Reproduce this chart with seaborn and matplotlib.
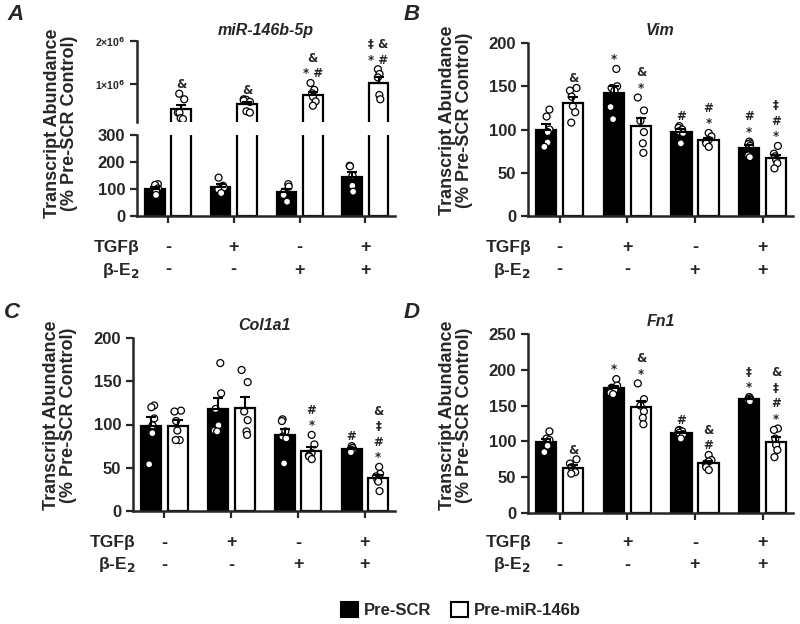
import numpy as np
import pandas as pd
import matplotlib.pyplot as plt
import seaborn as sns
from matplotlib.patches import Patch
from matplotlib.transforms import blended_transform_factory

sns.set_style("ticks")
plt.rcParams["font.family"] = ["Liberation Sans", "DejaVu Sans"]
plt.rcParams["font.weight"] = "bold"

GROUPS = ["ctrl", "tgf", "e2", "tgf_e2"]
TGF_ROW = ["-", "+", "-", "+"]
E2_ROW = ["-", "-", "+", "+"]
TREATMENTS = ["Pre-SCR", "Pre-miR-146b"]
YLABEL = "Transcript Abundance\n(% Pre-SCR Control)"

# A: miR-146b-5p (broken axis)
mir146_scr = [[118, 115, 102, 90, 78], [142, 112, 105, 98, 85],
              [118, 109, 90, 78, 53], [186, 184, 150, 112, 90]]
mir146_mir = [[0.77e6, 0.64e6, 0.33e6, 0.33e6, 0.20e6, 0.18e6],
              [0.64e6, 0.63e6, 0.61e6, 0.58e6, 0.36e6, 0.33e6],
              [1.02e6, 0.86e6, 0.78e6, 0.70e6, 0.59e6, 0.49e6],
              [1.34e6, 1.23e6, 1.15e6, 0.74e6, 0.64e6]]
mir146_marks_scr = ["", "", "", ""]
mir146_marks_mir = ["&", "&", "&\n* #", "‡ &\n* #"]

# B: Vim
vim_scr = [[123, 115, 100, 97, 85, 80], [170, 150, 148, 145, 126, 112],
           [104, 102, 100, 98, 96, 84], [86, 84, 83, 81, 70, 68]]
vim_mir = [[148, 145, 138, 127, 120, 108], [137, 122, 110, 97, 84, 73],
           [96, 92, 88, 86, 84, 80], [81, 72, 69, 65, 61, 55]]
vim_marks_scr = ["", "*", "#", "#\n*"]
vim_marks_mir = ["&", "&\n*", "#\n*", "‡\n#\n*"]

# C: Col1a1
col_scr = [[122, 120, 107, 99, 90, 54], [171, 136, 118, 99, 93, 92],
           [106, 104, 92, 86, 84, 55], [75, 73, 71, 70, 68]]
col_mir = [[116, 115, 104, 93, 82, 82], [163, 149, 115, 105, 92, 88],
           [88, 77, 67, 64, 63, 60], [51, 43, 40, 36, 34, 23]]
col_marks_scr = ["", "", "", "#"]
col_marks_mir = ["", "", "#\n*", "&\n‡\n#\n*"]

# D: Fn1
fn_scr = [[114, 104, 102, 98, 94, 85], [187, 178, 175, 172, 168, 166],
          [116, 115, 114, 112, 110, 104], [162, 160, 159, 158, 157, 156]]
fn_mir = [[75, 69, 64, 60, 57, 55], [181, 159, 150, 142, 133, 124],
          [81, 74, 72, 69, 64, 60], [118, 116, 104, 95, 88, 78]]
fn_marks_scr = ["", "*", "#", "‡\n*"]
fn_marks_mir = ["&", "&\n*", "&\n#", "&\n‡\n#\n*"]


def make_df(scr, mir):
    rows = []
    for g, vals in zip(GROUPS, scr):
        rows += [(g, TREATMENTS[0], v) for v in vals]
    for g, vals in zip(GROUPS, mir):
        rows += [(g, TREATMENTS[1], v) for v in vals]
    return pd.DataFrame(rows, columns=["group", "treatment", "value"])


def draw(ax, df, marks_scr, marks_mir, ylim):
    np.random.seed(4)
    sns.barplot(data=df, x="group", y="value", hue="treatment", order=GROUPS,
                hue_order=TREATMENTS, palette=["black", "white"], edgecolor="black",
                linewidth=1.6, errorbar=None, width=0.8, gap=0.25, legend=False, ax=ax)
    sns.stripplot(data=df, x="group", y="value", hue="treatment", order=GROUPS,
                  hue_order=TREATMENTS, palette=["white", "white"], edgecolor="black",
                  linewidth=0.9, size=5, jitter=0.1, dodge=True, legend=False, ax=ax)
    bars = sorted([p for p in ax.patches if p.get_width() > 0], key=lambda p: p.get_x())
    stats = df.groupby(["group", "treatment"])["value"].agg(["mean", "sem", "max"])
    marks = {TREATMENTS[0]: marks_scr, TREATMENTS[1]: marks_mir}
    i = 0
    for gi, g in enumerate(GROUPS):
        for t in TREATMENTS:
            p = bars[i]
            i += 1
            x = p.get_x() + p.get_width() / 2
            m, s, mx = stats.loc[(g, t)]
            ax.errorbar(x, m, yerr=[[0], [s]], fmt="none", ecolor="black",
                        elinewidth=1.5, capsize=3.5, capthick=1.5, zorder=5)
            txt = marks[t][gi]
            top = max(mx, m + s)
            if txt and ylim[0] < top < ylim[1]:
                ax.annotate(txt, (x, top), xytext=(0, 2), textcoords="offset points",
                            ha="center", va="bottom", fontsize=8.5, fontweight="bold",
                            family=["DejaVu Sans"], linespacing=1.25)
    ax.set_xlim(-0.47, 3.45)
    ax.set_ylim(*ylim)
    ax.set_xlabel("")
    ax.set_ylabel("")
    sns.despine(ax=ax)
    for s in ["left", "bottom"]:
        ax.spines[s].set_linewidth(1.8)
    ax.tick_params(width=1.6, length=5, labelsize=12)


fig = plt.figure(figsize=(8, 6.24), dpi=100)
H = 624.0


def fig_axes(left, top, right, bottom):
    return fig.add_axes([left / 800, 1 - bottom / H, (right - left) / 800, (bottom - top) / H])


def table(ax, y1, y2):
    trans = blended_transform_factory(ax.transData, fig.transFigure)
    for gi in range(len(GROUPS)):
        ax.text(gi, 1 - y1 / H, TGF_ROW[gi], transform=trans, ha="center", va="center",
                fontsize=13, fontweight="bold")
        ax.text(gi, 1 - y2 / H, E2_ROW[gi], transform=trans, ha="center", va="center",
                fontsize=13, fontweight="bold")
    x0 = ax.get_position().x0 + 3 / 800
    fig.text(x0, 1 - y1 / H, "TGFβ", ha="right", va="center", fontsize=12.5, fontweight="bold")
    fig.text(x0, 1 - y2 / H, "β-E$_\\mathbf{2}$", ha="right", va="center", fontsize=12.5,
             fontweight="bold")


# Panel A
df_a = make_df(mir146_scr, mir146_mir)
ax_up = fig_axes(137, 41, 395, 122)
ax_lo = fig_axes(137, 135, 395, 216)
draw(ax_up, df_a, mir146_marks_scr, mir146_marks_mir, (1.1e5, 2e6))
draw(ax_lo, df_a, mir146_marks_scr, mir146_marks_mir, (0, 300))
ax_up.spines["bottom"].set_visible(False)
ax_up.tick_params(axis="x", bottom=False, labelbottom=False)
ax_up.set_yticks([1e6, 2e6])
ax_up.set_yticklabels(["1×10$^6$", "2×10$^6$"], fontsize=7.5)
ax_lo.set_yticks([0, 100, 200, 300])
ax_lo.set_xticklabels([])
ax_up.set_title("miR-146b-5p", fontsize=11.5, fontweight="bold", fontstyle="italic", pad=4)
table(ax_lo, 248, 270)

# Panel B
ax_b = fig_axes(528, 43, 793, 216)
draw(ax_b, make_df(vim_scr, vim_mir), vim_marks_scr, vim_marks_mir, (0, 200))
ax_b.set_yticks([0, 50, 100, 150, 200])
ax_b.set_xticklabels([])
ax_b.set_title("Vim", fontsize=11.5, fontweight="bold", fontstyle="italic", pad=6)
table(ax_b, 248, 270)

# Panel C
ax_c = fig_axes(133, 338, 395, 511)
draw(ax_c, make_df(col_scr, col_mir), col_marks_scr, col_marks_mir, (0, 200))
ax_c.set_yticks([0, 50, 100, 150, 200])
ax_c.set_xticklabels([])
ax_c.set_title("Col1a1", fontsize=11.5, fontweight="bold", fontstyle="italic", pad=6)
table(ax_c, 543, 565)

# Panel D
ax_d = fig_axes(528, 334, 793, 513)
draw(ax_d, make_df(fn_scr, fn_mir), fn_marks_scr, fn_marks_mir, (0, 250))
ax_d.set_yticks([0, 50, 100, 150, 200, 250])
ax_d.set_xticklabels([])
ax_d.set_title("Fn1", fontsize=11.5, fontweight="bold", fontstyle="italic", pad=6)
table(ax_d, 543, 565)

# y labels and panel letters
for xc, yc in [(61, 123), (456, 120), (60, 415), (456, 415)]:
    fig.text(xc / 800, 1 - yc / H, YLABEL, rotation=90, ha="center", va="center",
             fontsize=13, fontweight="bold", linespacing=1.0)
for letter, xl, yl in [("A", 16, 15), ("B", 412, 15), ("C", 12, 313), ("D", 412, 313)]:
    fig.text(xl / 800, 1 - yl / H, letter, ha="center", va="center", fontsize=16,
             fontweight="bold", fontstyle="italic")

handles = [Patch(facecolor="black", edgecolor="black", linewidth=1.5),
           Patch(facecolor="white", edgecolor="black", linewidth=1.5)]
fig.legend(handles, TREATMENTS, loc="center", bbox_to_anchor=(461 / 800, 1 - 610 / H),
           ncol=2, frameon=False, handlelength=1.0, handleheight=1.0,
           handletextpad=0.35, columnspacing=1.2, prop={"weight": "bold", "size": 12})

fig.savefig("out.png", dpi=100)
